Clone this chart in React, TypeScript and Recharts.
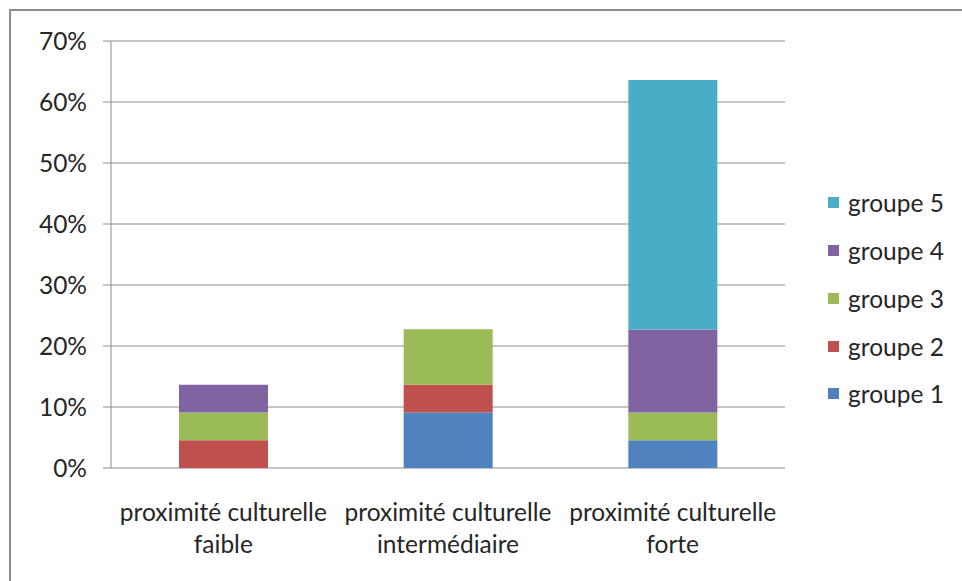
import { BarChart, Bar, XAxis, YAxis, CartesianGrid, Legend } from 'recharts';

const categories = ['faible', 'intermédiaire', 'forte'];
const categoryPrefix = 'proximité culturelle';

const groupe1 = [0, 0.0909, 0.0455];
const groupe2 = [0.0455, 0.0455, 0];
const groupe3 = [0.0455, 0.0909, 0.0455];
const groupe4 = [0.0455, 0, 0.136];
const groupe5 = [0, 0, 0.409];

const yTicks = [0, 0.1, 0.2, 0.3, 0.4, 0.5, 0.6, 0.7];
const boundaryTicks = [0, 1, 2, 3];

const seriesNames = ['groupe 1', 'groupe 2', 'groupe 3', 'groupe 4', 'groupe 5'];
const seriesColors = ['#4F81BD', '#C0504D', '#9BBB59', '#8064A2', '#4BACC6'];

const data = categories.map((c, i) => ({
  name: c,
  g1: groupe1[i],
  g2: groupe2[i],
  g3: groupe3[i],
  g4: groupe4[i],
  g5: groupe5[i],
}));

const FONT = 'Lato, "DejaVu Sans", sans-serif';
const TEXT = '#262626';
const FS = 24.5;

function CategoryTick({ x, y, payload }: any) {
  return (
    <g transform={`translate(${x},${y})`}>
      <text textAnchor="middle" fontFamily={FONT} fontSize={FS} fill={TEXT}>
        <tspan x={0} dy={45}>{categoryPrefix}</tspan>
        <tspan x={0} dy={32}>{payload.value}</tspan>
      </text>
    </g>
  );
}

function LegendContent() {
  const items = seriesNames.map((n, i) => ({ n, c: seriesColors[i] })).reverse();
  return (
    <div style={{ fontFamily: FONT, fontSize: FS, color: TEXT }}>
      {items.map((it) => (
        <div key={it.n} style={{ height: 47.75, display: 'flex', alignItems: 'center' }}>
          <span style={{ width: 11, height: 11, background: it.c, display: 'inline-block', marginRight: 9 }} />
          <span>{it.n}</span>
        </div>
      ))}
    </div>
  );
}

export default function App() {
  return (
    <div style={{ position: 'absolute', left: 0, top: 0, width: 962, height: 581, overflow: 'hidden', background: '#fff' }}>
      <div
        style={{
          position: 'absolute',
          left: 9,
          top: 9,
          width: 1000,
          height: 1000,
          border: '2px solid #8c8c8c',
        }}
      />
      <div style={{ position: 'absolute', left: 0, top: 0 }}>
        <BarChart
          width={962}
          height={581}
          data={data}
          margin={{ top: 41, right: 37, bottom: 33, left: 51 }}
          barSize={89}
        >
          <CartesianGrid vertical={false} stroke="#8c8c8c" />
          <XAxis
            xAxisId="num"
            type="number"
            domain={[0, 3]}
            ticks={boundaryTicks}
            tick={false}
            tickSize={9}
            height={0}
            stroke="#8c8c8c"
          />
          <XAxis
            xAxisId="cat"
            dataKey="name"
            tickLine={false}
            axisLine={false}
            height={80}
            tick={<CategoryTick />}
            interval={0}
          />
          <YAxis
            width={60}
            domain={[0, 0.7]}
            ticks={yTicks}
            tickFormatter={(v: number) => `${Math.round(v * 100)}%`}
            tick={{ fontFamily: FONT, fontSize: FS, fill: TEXT }}
            tickSize={8}
            tickMargin={16}
            stroke="#8c8c8c"
          />
          <Legend
            layout="vertical"
            align="right"
            verticalAlign="middle"
            content={<LegendContent />}
            wrapperStyle={{ width: 140, left: 828, top: 179 }}
          />
          <Bar xAxisId="cat" dataKey="g1" name={seriesNames[0]} stackId="s" fill={seriesColors[0]} isAnimationActive={false} />
          <Bar xAxisId="cat" dataKey="g2" name={seriesNames[1]} stackId="s" fill={seriesColors[1]} isAnimationActive={false} />
          <Bar xAxisId="cat" dataKey="g3" name={seriesNames[2]} stackId="s" fill={seriesColors[2]} isAnimationActive={false} />
          <Bar xAxisId="cat" dataKey="g4" name={seriesNames[3]} stackId="s" fill={seriesColors[3]} isAnimationActive={false} />
          <Bar xAxisId="cat" dataKey="g5" name={seriesNames[4]} stackId="s" fill={seriesColors[4]} isAnimationActive={false} />
        </BarChart>
      </div>
    </div>
  );
}
